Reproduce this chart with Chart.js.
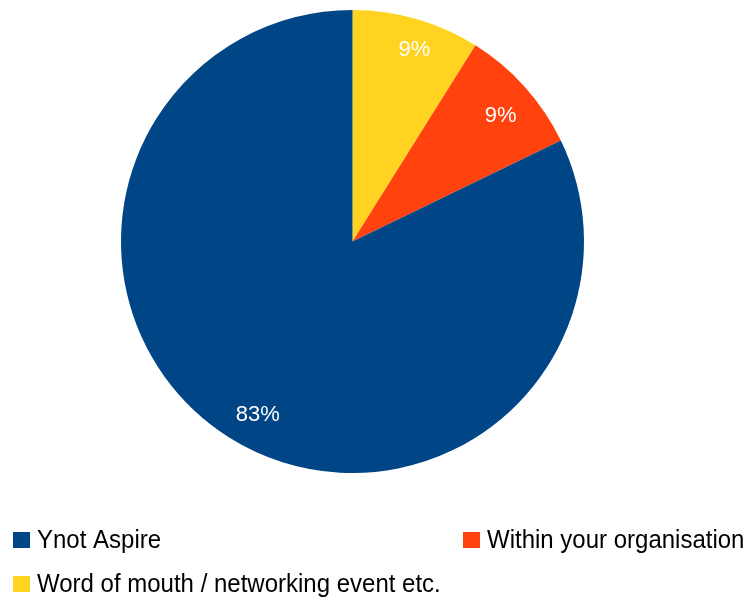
<!DOCTYPE html>
<html>
<head>
<meta charset="utf-8">
<title>Ynot Aspire</title>
<script src="https://cdn.jsdelivr.net/npm/chart.js@4/dist/chart.umd.min.js"></script>
<style>
  html, body { margin: 0; padding: 0; background: #fff; }
  #wrap { position: relative; width: 751px; height: 603px; }
</style>
</head>
<body>
<div id="wrap"><canvas id="sourceChart" width="751" height="603"></canvas></div>
<script>
// where people heard about the programme (percent)
const categories = ['Ynot Aspire', 'Within your organisation', 'Word of mouth / networking event etc.'];
const shares = [83, 9, 9];
const colors = ['#004586', '#ff420e', '#ffd320'];

// slices run anticlockwise from 12 o'clock, so feed them to the chart reversed
const pieLabels = categories.slice().reverse();
const pieValues = shares.slice().reverse();
const pieColors = colors.slice().reverse();

// small hand tweaks for the percent text (x, y), in pie order
const labelNudge = [[7, 0], [0, 7], [11, 5]];

// percent text inside each slice
const sliceLabels = {
    id: 'sliceLabels',
    afterDatasetsDraw(chart) {
        const ctx = chart.ctx;
        const meta = chart.getDatasetMeta(0);
        ctx.save();
        ctx.fillStyle = '#ffffff';
        ctx.font = '22px "Liberation Sans", Arial, sans-serif';
        ctx.textAlign = 'center';
        ctx.textBaseline = 'middle';
        meta.data.forEach((arc, i) => {
            const p = arc.getProps(['x', 'y', 'startAngle', 'endAngle', 'outerRadius'], true);
            const mid = (p.startAngle + p.endAngle) / 2;
            const r = p.outerRadius * 0.86;
            const [dx, dy] = labelNudge[i];
            ctx.fillText(pieValues[i] + '%', p.x + Math.cos(mid) * r + dx, p.y + Math.sin(mid) * r + dy);
        });
        ctx.restore();
    }
};

// two-column legend under the pie
const gridLegend = {
    id: 'gridLegend',
    afterDraw(chart) {
        const ctx = chart.ctx;
        const cols = [13, 463];
        const rows = [548, 592];
        ctx.save();
        ctx.font = '24px "Liberation Sans", Arial, sans-serif';
        ctx.textBaseline = 'alphabetic';
        categories.forEach((name, i) => {
            const x = cols[i % 2];
            const y = rows[Math.floor(i / 2)];
            ctx.fillStyle = colors[i];
            ctx.fillRect(x, y - 16, 17, 16);
            ctx.fillStyle = '#000000';
            ctx.save();
            ctx.translate(x + 24, y);
            ctx.scale(1, 1.05);
            ctx.fillText(name, 0, 0);
            ctx.restore();
        });
        ctx.restore();
    }
};

new Chart(document.getElementById('sourceChart'), {
    type: 'pie',
    data: {
        labels: pieLabels,
        datasets: [{
            data: pieValues,
            backgroundColor: pieColors,
            borderWidth: 0,
            hoverOffset: 0
        }]
    },
    options: {
        responsive: false,
        animation: false,
        layout: { padding: { top: 10, bottom: 130, left: 121, right: 167 } },
        plugins: {
            legend: { display: false },
            tooltip: { enabled: false }
        }
    },
    plugins: [sliceLabels, gridLegend]
});
</script>
</body>
</html>
